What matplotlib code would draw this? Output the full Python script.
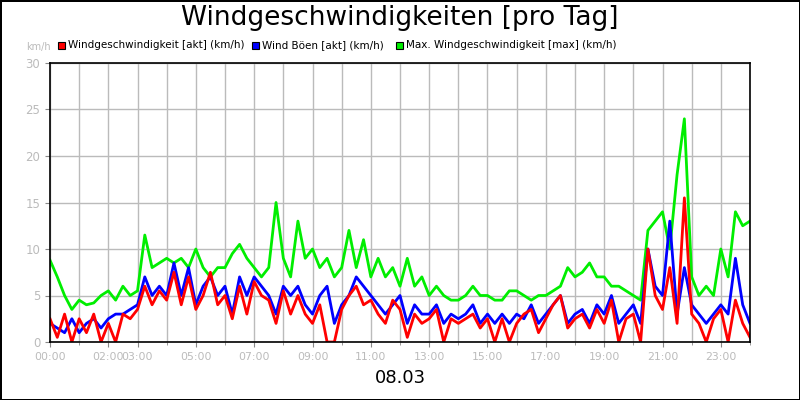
import matplotlib
matplotlib.use("Agg")
import matplotlib.pyplot as plt
import numpy as np

# 15-minute samples, 00:00 .. 24:00
max_wind = [8.8,7,5,3.5, 4.5,4,4.2,5, 5.5,4.5,6,5, 5.5,11.5,8,8.5, 9,8.5,9,8,
            10,8,7,8, 8,9.5,10.5,9, 8,7,8,15, 9,7,13,9, 10,8,9,7, 8,12,8,11,
            7,9,7,8, 6,9,6,7, 5,6,5,4.5, 4.5,5,6,5, 5,4.5,4.5,5.5, 5.5,5,4.5,5,
            5,5.5,6,8, 7,7.5,8.5,7, 7,6,6,5.5, 5,4.5,12,13, 14,10,18,24,
            7,5,6,5, 10,7,14,12.5, 13]
boeen = [2,1.5,1,2.5, 1,2,2.5,1.5, 2.5,3,3,3.5, 4,7,5,6, 5,8.5,5,8, 4,6,7,5,
         6,3,7,5, 7,6,5,3, 6,5,6,4, 3,5,6,2, 4,5,7,6, 5,4,3,4, 5,2,4,3,
         3,4,2,3, 2.5,3,4,2, 3,2,3,2, 3,2.5,4,2, 3,4,5,2, 3,3.5,2,4, 3,5,2,3,
         4,2,10,6, 5,13,3,8, 4,3,2,3, 4,3,9,4, 2]
akt = [2.5,0.5,3,0, 2.5,1,3,0, 2,0,3,2.5, 3.5,6,4,5.5, 4.5,7.5,4,7, 3.5,5,7.5,4,
       5,2.5,6,3, 6.5,5,4.5,2, 5.5,3,5,3, 2,4,0,0, 3.5,5,6,4, 4.5,3,2,4.5,
       3.5,0.5,3,2, 2.5,3.5,0,2.5, 2,2.5,3,1.5, 2.5,0,2.5,0, 2,3,3.5,1, 2.5,4,5,1.5,
       2.5,3,1.5,3.5, 2,4.5,0,2.5, 3,0,10,5, 3.5,8,2,15.5, 3,2,0,2.5, 3.5,0,4.5,2, 0.5]

hours = np.arange(len(max_wind)) * 0.25
tick_hours = [0,2,3,5,7,9,11,13,15,17,19,21,23]
tick_labels = ["00:00","02:00","03:00","05:00","07:00","09:00","11:00","13:00",
               "15:00","17:00","19:00","21:00","23:00"]

fig = plt.figure(figsize=(8,4), dpi=100)
fig.patch.set_edgecolor("black"); fig.patch.set_linewidth(2)
ax = fig.add_axes([50/800, 1-342/400, 700/800, 279/400])
ax.plot(hours, max_wind, color="#00ee00", lw=2)
ax.plot(hours, boeen, color="#0000ff", lw=2)
ax.plot(hours, akt, color="#ff0000", lw=2)
ax.set_xlim(0,24); ax.set_ylim(0,30)
ax.set_xticks(tick_hours)
ax.set_xticklabels(tick_labels, color="#bbbbbb", fontsize=7.8)
ax.set_xticks(range(25), minor=True)
ax.set_yticks(range(0,31,5))
ax.tick_params(axis="y", colors="#bbbbbb", labelsize=8.5)
ax.tick_params(axis="both", which="both", color="#888888")
ax.grid(True, which="both", color="#bbbbbb", lw=1)
ax.set_axisbelow(True)
for s in ax.spines.values(): s.set_linewidth(1.2)
fig.text(0.5, 1-18/400, "Windgeschwindigkeiten [pro Tag]", ha="center", va="center", fontsize=19)
fig.text(0.5, 1-378/400, "08.03", ha="center", va="center", fontsize=13)
fig.text(38/800, 1-47/400, "km/h", ha="center", va="center", fontsize=7, color="#bbbbbb")
leg = [("#ff0000","Windgeschwindigkeit [akt] (km/h)",58),
       ("#0000ff","Wind Böen [akt] (km/h)",252),
       ("#00ee00","Max. Windgeschwindigkeit [max] (km/h)",396)]
for c,t,x in leg:
    fig.patches.append(plt.Rectangle((x/800, 1-49/400), 7/800, 7/400, transform=fig.transFigure,
                                     facecolor=c, edgecolor="black", lw=0.8))
    fig.text((x+10)/800, 1-45/400, t, va="center", fontsize=7.5)
fig.savefig("out.png", dpi=100, edgecolor=fig.get_edgecolor())
